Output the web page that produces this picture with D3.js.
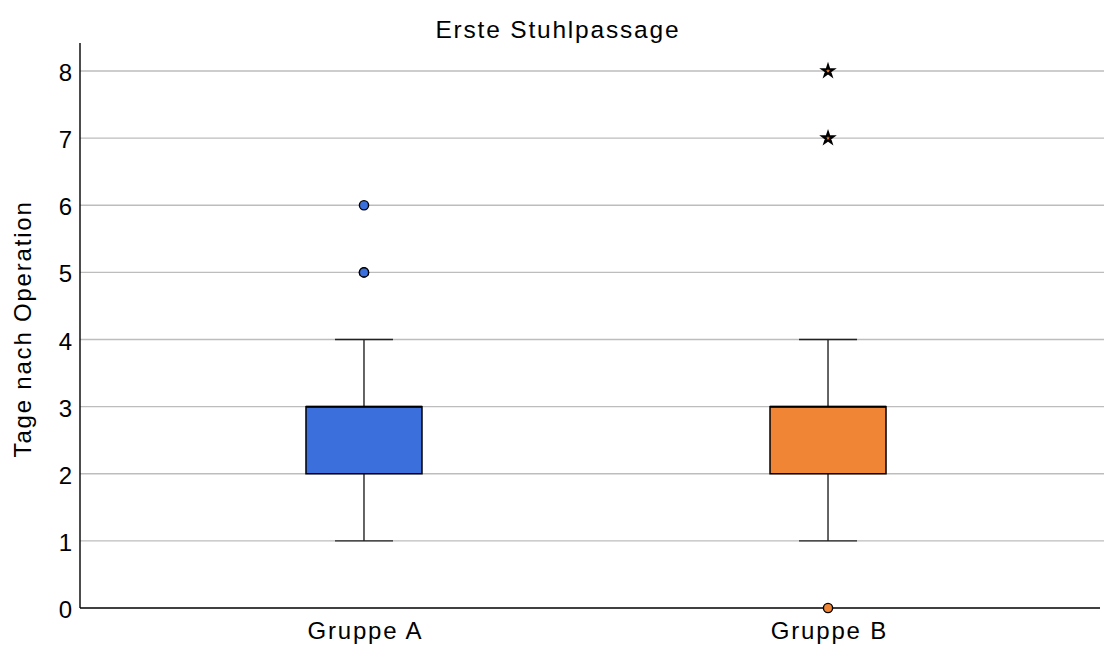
<!DOCTYPE html>
<html><head><meta charset="utf-8">
<script src="https://cdn.jsdelivr.net/npm/d3@7"></script>
<style>body{margin:0;background:#fff;} text{font-family:"Liberation Sans",Arial,sans-serif;}</style>
</head><body>
<svg id="c" width="1104" height="646"></svg>
<script>
const categories = ["Gruppe A", "Gruppe B"];
const colors = ["#3b6fdc", "#f08535"];
const q1 = [2, 2];
const median = [3, 3];   // median coincides with q3 in the picture
const q3 = [3, 3];
const whiskerLow = [1, 1];
const whiskerHigh = [4, 4];
const outliers = [[5, 5, 6], [0]];
const extremes = [[], [7, 8]];
const yTicks = [0, 1, 2, 3, 4, 5, 6, 7, 8];

(function () {
const svg = d3.select("#c");
const pLeft = 80, pRight = 1112, pTop = 43, pBottom = 608;
const y = d3.scaleLinear().domain([0, 8]).range([pBottom, 71]);
const x = d3.scalePoint().domain(categories).range([pLeft, pRight]).padding(0.612);
const boxW = 116, capW = 58;
const FS = 24, LS = 1.8;

// gridlines
svg.append("g").selectAll("line").data(yTicks.filter(d => d > 0)).join("line")
  .attr("x1", pLeft).attr("x2", 1104).attr("y1", d => y(d)).attr("y2", d => y(d))
  .attr("stroke", "#bdbdbd").attr("stroke-width", 1.3);

// y axis
const yAxis = svg.append("g").attr("transform", `translate(${pLeft},0)`)
  .call(d3.axisLeft(y).tickValues(yTicks).tickSize(0).tickPadding(8));
yAxis.select(".domain").attr("d", `M0,${pTop}V${pBottom}`).attr("stroke", "#000").attr("stroke-width", 1.4);
yAxis.selectAll("text").attr("font-size", FS).attr("fill", "#000").attr("dy", "0.4em");

// x axis
const xAxis = svg.append("g").attr("transform", `translate(0,${pBottom})`)
  .call(d3.axisBottom(x).tickSize(0));
xAxis.select(".domain").attr("d", `M${pLeft},0H1100`).attr("stroke", "#000").attr("stroke-width", 1.4);
xAxis.selectAll("text").attr("font-size", FS).attr("fill", "#000")
  .attr("letter-spacing", LS).attr("y", 31).attr("dy", 0).attr("dx", LS / 2);

// boxes
categories.forEach((c, i) => {
  const g = svg.append("g");
  const cx = x(c);
  g.append("line").attr("x1", cx).attr("x2", cx).attr("y1", y(whiskerHigh[i])).attr("y2", y(q3[i])).attr("stroke", "#222").attr("stroke-width", 1.4);
  g.append("line").attr("x1", cx).attr("x2", cx).attr("y1", y(q1[i])).attr("y2", y(whiskerLow[i])).attr("stroke", "#222").attr("stroke-width", 1.4);
  [whiskerHigh[i], whiskerLow[i]].forEach(v => g.append("line")
    .attr("x1", cx - capW / 2).attr("x2", cx + capW / 2).attr("y1", y(v)).attr("y2", y(v))
    .attr("stroke", "#222").attr("stroke-width", 1.4));
  g.append("rect").attr("x", cx - boxW / 2).attr("width", boxW)
    .attr("y", y(q3[i])).attr("height", y(q1[i]) - y(q3[i]))
    .attr("fill", colors[i]).attr("stroke", "#000").attr("stroke-width", 1.5);
  g.append("line").attr("x1", cx - boxW / 2).attr("x2", cx + boxW / 2).attr("y1", y(median[i])).attr("y2", y(median[i]))
    .attr("stroke", "#000").attr("stroke-width", 2);
  g.selectAll("circle").data(outliers[i]).join("circle")
    .attr("cx", cx).attr("cy", d => y(d)).attr("r", 4.6)
    .attr("fill", colors[i]).attr("stroke", "#000").attr("stroke-width", 1.4);
  g.selectAll("path.star").data(extremes[i]).join("path").attr("class", "star")
    .attr("transform", d => `translate(${cx},${y(d)})`)
    .attr("d", d3.symbol(d3.symbolStar, 36))
    .attr("fill", colors[i]).attr("stroke", "#000").attr("stroke-width", 2.2)
    .attr("stroke-linejoin", "miter");
});

// title
svg.append("text").attr("x", 557 + LS / 2).attr("y", 38).attr("text-anchor", "middle")
  .attr("font-size", FS + 0.5).attr("letter-spacing", LS).attr("fill", "#000").text("Erste Stuhlpassage");
// y label
svg.append("text").attr("transform", `translate(31,${328 + LS / 2}) rotate(-90)`).attr("text-anchor", "middle")
  .attr("font-size", FS).attr("letter-spacing", LS).attr("fill", "#000").text("Tage nach Operation");
})();
</script>
</body></html>
